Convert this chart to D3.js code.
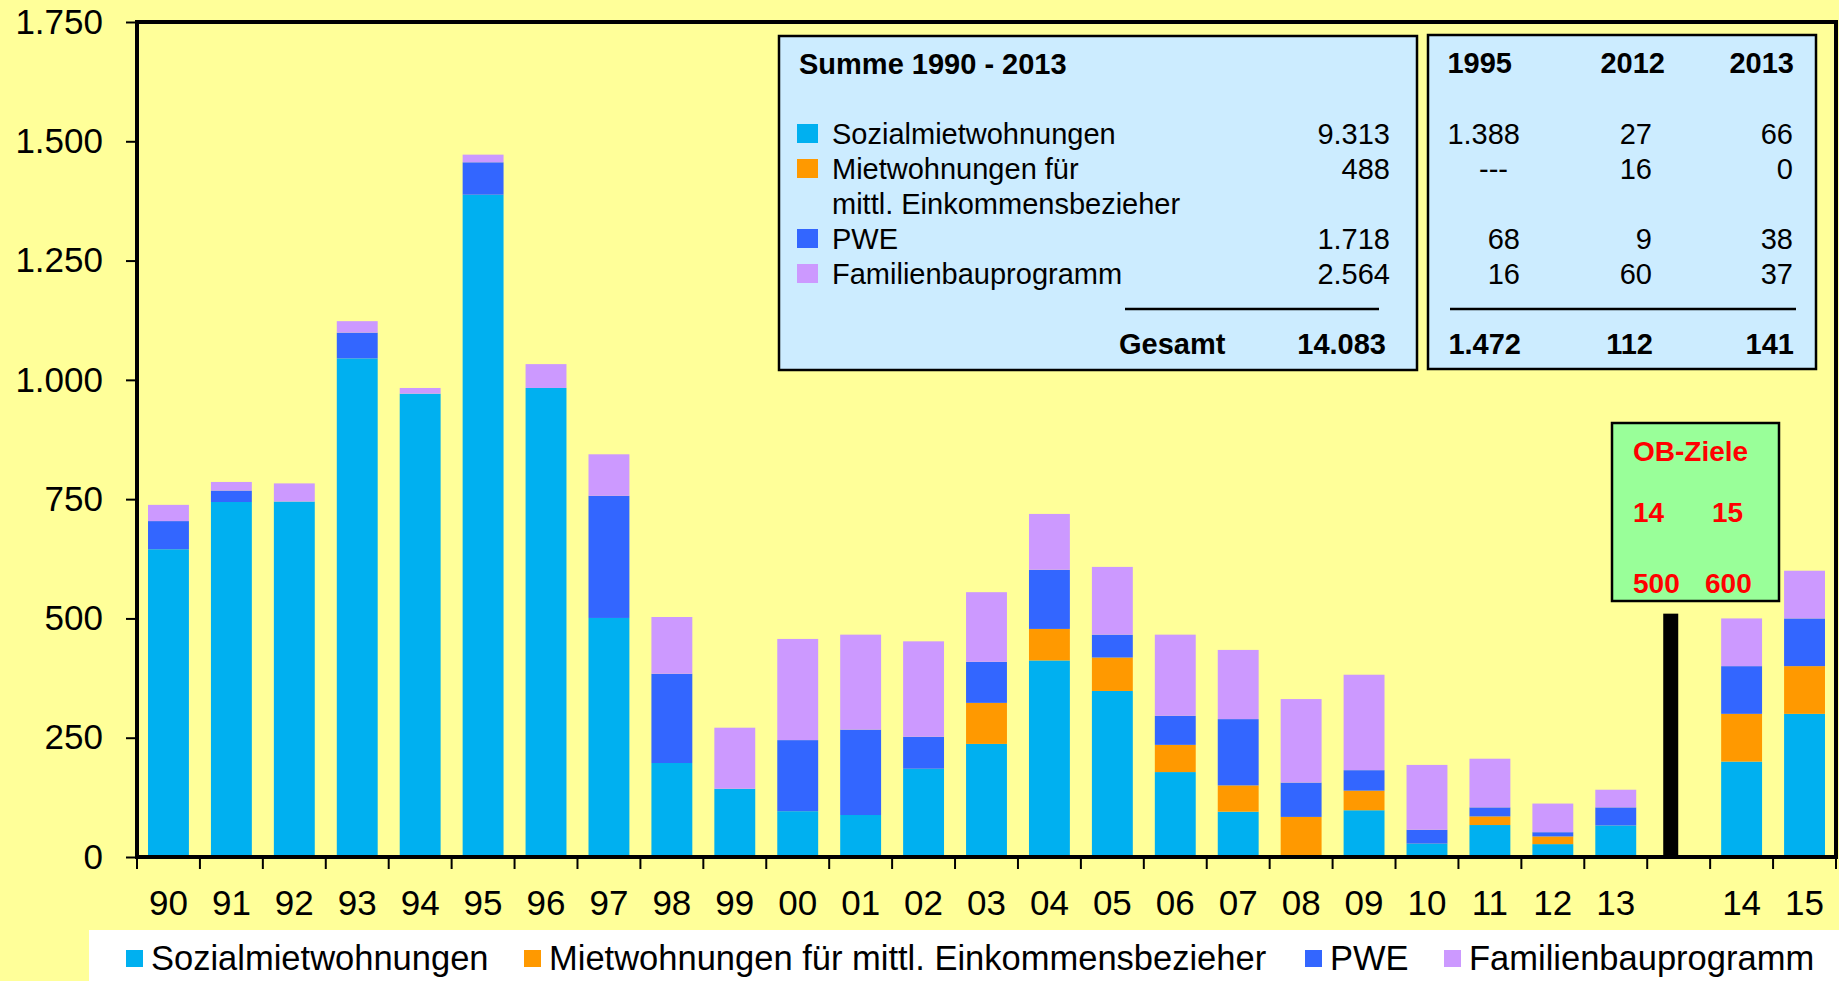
<!DOCTYPE html>
<html>
<head>
<meta charset="utf-8">
<script src="https://cdn.jsdelivr.net/npm/d3@7"></script>
<style>
  body { margin: 0; background: #FFFF99; }
  svg { display: block; font-family: "Liberation Sans", Arial, sans-serif; }
</style>
</head>
<body>
<div id="chart"></div>
<script>
// categories: 1990..2013, a gap slot, then the targets 2014/15
const years = ["90","91","92","93","94","95","96","97","98","99","00","01","02","03",
  "04","05","06","07","08","09","10","11","12","13","","14","15"];

const sozial   = [645,744,745,1045,971,1388,983,501,197,143,96,88,185,237,412,348,178,95,0,98,28,67,27,66,0,200,300];
const mittl    = [0,0,0,0,0,0,0,0,0,0,0,0,0,86,66,70,57,55,84,41,0,18,16,0,0,100,100];
const pwe      = [59,24,0,54,0,68,0,256,187,0,149,179,67,86,124,48,61,139,72,43,29,19,9,38,0,100,100];
const familien = [34,18,38,24,12,16,50,87,119,128,212,199,200,146,117,142,170,145,175,200,136,102,60,37,0,100,100];

// black divider bar in the gap slot
const markerCat = "";
const markerValue = 510;

const seriesNames = ["Sozialmietwohnungen", "Mietwohnungen für mittl. Einkommensbezieher", "PWE", "Familienbauprogramm"];
const seriesKeys = ["sozial", "mittl", "pwe", "familien"];
const colors = ["#00B0F0", "#FF9900", "#3366FF", "#CC99FF"];

const yTicks = [0, 250, 500, 750, 1000, 1250, 1500, 1750];

// summary table
const tableTitle = "Summe 1990 - 2013";
const tableLabels = [["Sozialmietwohnungen"], ["Mietwohnungen für", "mittl. Einkommensbezieher"], ["PWE"], ["Familienbauprogramm"]];
const tableSums = [9313, 488, 1718, 2564];
const tableYears = ["1995", "2012", "2013"];
const tableYearValues = [[1388, null, 68, 16], [27, 16, 9, 60], [66, 0, 38, 37]];

const targetTitle = "OB-Ziele";
const targetYears = ["14", "15"];
const targetValues = [500, 600];

(function chart() {
  const width = 1839, height = 981;
  const margin = { top: 22, right: 3, bottom: 124, left: 137 };
  const font = 35;

  const de = d3.formatLocale({ decimal: ",", thousands: ".", grouping: [3], currency: ["", " €"] });
  const fmt = de.format(",");

  const svg = d3.select("#chart").append("svg")
    .attr("width", width)
    .attr("height", height);

  svg.append("rect")
    .attr("width", width).attr("height", height)
    .attr("fill", "#FFFF99");

  let rows = years.map((c, i) => ({
    cat: c, sozial: sozial[i], mittl: mittl[i], pwe: pwe[i], familien: familien[i]
  }));

  let x = d3.scaleBand()
    .domain(years)
    .range([margin.left, width - margin.right])
    .paddingInner(0.35)
    .paddingOuter(0.175);

  let y = d3.scaleLinear()
    .domain([0, 1750])
    .range([height - margin.bottom, margin.top]);

  let stack = d3.stack().keys(seriesKeys)(rows);

  svg.append("g")
    .selectAll("g")
    .data(stack)
    .join("g")
      .attr("fill", (d, i) => colors[i])
    .selectAll("rect")
    .data(d => d.filter(s => s[1] > s[0]))
    .join("rect")
      .attr("x", d => x(d.data.cat))
      .attr("width", x.bandwidth())
      .attr("y", d => y(d[1]))
      .attr("height", d => y(d[0]) - y(d[1]));

  // divider bar
  svg.append("rect")
    .attr("x", x(markerCat) + 5)
    .attr("width", 15)
    .attr("y", y(markerValue))
    .attr("height", y(0) - y(markerValue))
    .attr("fill", "#000");

  // y axis
  let yAxis = svg.append("g")
    .attr("transform", `translate(${margin.left},0)`)
    .call(d3.axisLeft(y).tickValues(yTicks).tickSize(11).tickPadding(23).tickFormat(fmt));
  yAxis.select(".domain").remove();
  yAxis.selectAll("line").attr("stroke", "#000").attr("stroke-width", 2);
  yAxis.selectAll("text").attr("font-size", font).attr("fill", "#000")
    .attr("font-family", "'Liberation Sans', Arial, sans-serif");

  // x labels
  let xAxis = svg.append("g")
    .attr("transform", `translate(0,${y(0)})`)
    .call(d3.axisBottom(x).tickSize(0).tickPadding(33));
  xAxis.select(".domain").remove();
  xAxis.selectAll("text").attr("font-size", font).attr("fill", "#000")
    .attr("font-family", "'Liberation Sans', Arial, sans-serif");

  // tick marks at the slot boundaries
  let half = (x.step() - x.bandwidth()) / 2;
  let bounds = years.map(c => x(c) - half).concat([x(years[years.length - 1]) + x.bandwidth() + half]);
  svg.append("g")
    .selectAll("line")
    .data(bounds)
    .join("line")
      .attr("x1", d => d).attr("x2", d => d)
      .attr("y1", y(0)).attr("y2", y(0) + 12)
      .attr("stroke", "#000")
      .attr("stroke-width", 2);

  // plot frame
  svg.append("rect")
    .attr("x", margin.left)
    .attr("y", margin.top)
    .attr("width", width - margin.right - margin.left)
    .attr("height", y(0) - margin.top)
    .attr("fill", "none")
    .attr("stroke", "#000")
    .attr("stroke-width", 4);

  // bottom legend
  let legendX = [126, 524, 1305, 1444];
  svg.append("rect")
    .attr("x", 89).attr("y", 930)
    .attr("width", width - 89).attr("height", height - 930)
    .attr("fill", "#fff");

  let leg = svg.append("g")
    .selectAll("g")
    .data(seriesNames)
    .join("g")
      .attr("transform", (d, i) => `translate(${legendX[i]},950)`);
  leg.append("rect")
    .attr("width", 17).attr("height", 17)
    .attr("fill", (d, i) => colors[i]);
  leg.append("text")
    .attr("x", 25).attr("y", 20)
    .attr("font-size", 34.5)
    .text(d => d);

  // summary boxes
  const tf = 29;
  svg.append("rect")
    .attr("x", 779).attr("y", 36).attr("width", 638).attr("height", 334)
    .attr("fill", "#CCECFF").attr("stroke", "#000").attr("stroke-width", 2.5);
  svg.append("rect")
    .attr("x", 1428).attr("y", 35).attr("width", 388).attr("height", 334)
    .attr("fill", "#CCECFF").attr("stroke", "#000").attr("stroke-width", 2.5);

  svg.append("text")
    .attr("x", 799).attr("y", 74)
    .attr("font-size", tf).attr("font-weight", "bold")
    .text(tableTitle);

  let rowY = [144, 179, 249, 284];

  let tbl = svg.append("g");
  tableLabels.forEach((lines, i) => {
    tbl.append("rect")
      .attr("x", 797).attr("y", rowY[i] - 20)
      .attr("width", 21).attr("height", 19)
      .attr("fill", colors[i]);
    lines.forEach((t, j) => {
      tbl.append("text")
        .attr("x", 832).attr("y", rowY[i] + j * 35)
        .attr("font-size", tf)
        .text(t);
    });
    tbl.append("text")
      .attr("x", 1390).attr("y", rowY[i])
      .attr("text-anchor", "end")
      .attr("font-size", tf)
      .text(fmt(tableSums[i]));
  });

  tbl.append("line")
    .attr("x1", 1125).attr("x2", 1379).attr("y1", 309).attr("y2", 309)
    .attr("stroke", "#000").attr("stroke-width", 2.5);
  tbl.append("text")
    .attr("x", 1119).attr("y", 354)
    .attr("font-size", tf).attr("font-weight", "bold")
    .text("Gesamt");
  tbl.append("text")
    .attr("x", 1386).attr("y", 354)
    .attr("text-anchor", "end")
    .attr("font-size", tf).attr("font-weight", "bold")
    .text(fmt(d3.sum(tableSums)));

  let headRight = [1512, 1665, 1794];
  let colRight = [1520, 1652, 1793];
  tableYears.forEach((yr, k) => {
    tbl.append("text")
      .attr("x", headRight[k]).attr("y", 73)
      .attr("text-anchor", "end")
      .attr("font-size", tf).attr("font-weight", "bold")
      .text(yr);
    tableYearValues[k].forEach((v, i) => {
      tbl.append("text")
        .attr("x", v === null ? colRight[k] - 12 : colRight[k]).attr("y", rowY[i])
        .attr("text-anchor", "end")
        .attr("font-size", tf)
        .text(v === null ? "---" : fmt(v));
    });
    tbl.append("text")
      .attr("x", colRight[k] + 1).attr("y", 354)
      .attr("text-anchor", "end")
      .attr("font-size", tf).attr("font-weight", "bold")
      .text(fmt(d3.sum(tableYearValues[k])));
  });
  tbl.append("line")
    .attr("x1", 1450).attr("x2", 1796).attr("y1", 309).attr("y2", 309)
    .attr("stroke", "#000").attr("stroke-width", 2.5);

  // target box
  let ob = svg.append("g");
  ob.append("rect")
    .attr("x", 1612).attr("y", 423).attr("width", 167).attr("height", 178)
    .attr("fill", "#99FF99").attr("stroke", "#000").attr("stroke-width", 2.5);
  ob.append("text")
    .attr("x", 1633).attr("y", 461)
    .attr("font-size", 28).attr("font-weight", "bold").attr("fill", "#FF0000")
    .text(targetTitle);
  let obX = [1633, 1712];
  let obX2 = [1633, 1705];
  targetYears.forEach((t, i) => {
    ob.append("text")
      .attr("x", obX[i]).attr("y", 522)
      .attr("font-size", 28).attr("font-weight", "bold").attr("fill", "#FF0000")
      .text(t);
    ob.append("text")
      .attr("x", obX2[i]).attr("y", 593)
      .attr("font-size", 28).attr("font-weight", "bold").attr("fill", "#FF0000")
      .text(targetValues[i]);
  });
})();
</script>
</body>
</html>
